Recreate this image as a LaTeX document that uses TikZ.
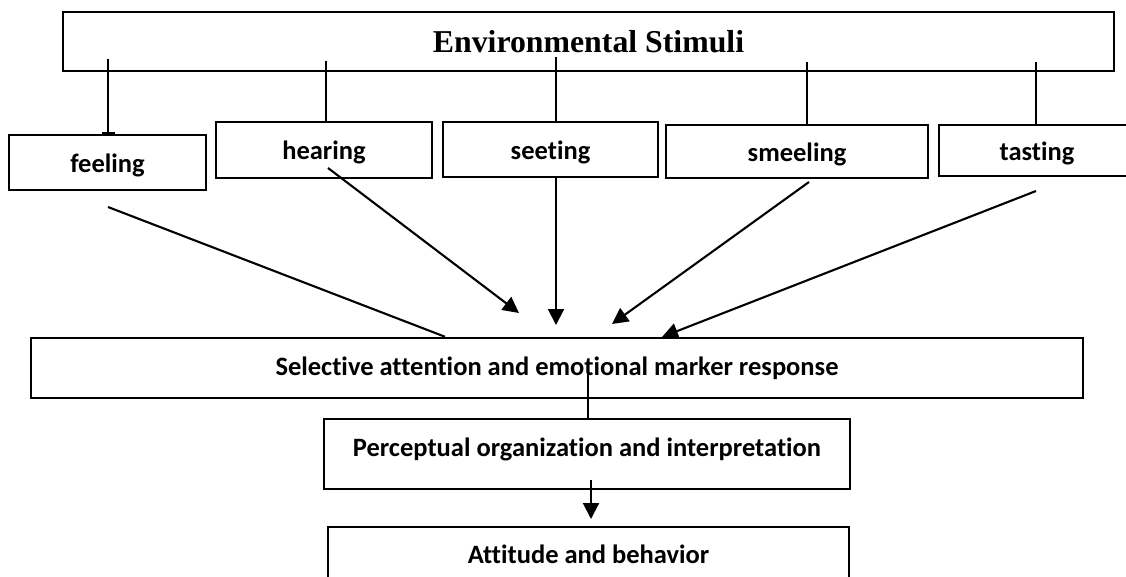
\documentclass[tikz,border=0pt]{standalone}
\usepackage{fontspec}
\setmainfont{Carlito}[Ligatures={NoCommon}]
\newfontfamily\timesb{Liberation Serif}
\usetikzlibrary{arrows.meta}
\begin{document}
\begin{tikzpicture}[x=1pt,y=-1pt,
  box/.style={draw, fill=white, line width=2.5pt, inner sep=0pt, align=center,
    font=\fontsize{26.5}{30}\selectfont\bfseries},
  sense/.style={box, text height=20pt, text depth=0pt},
  conn/.style={line width=2.1pt},
  arr/.style={conn, -{Triangle[length=16pt,width=16pt]}}]
\clip (0,0) rectangle (1126,577);
\fill[white] (0,0) rectangle (1126,577);

% boxes
\node[box, minimum width=1051pt, minimum height=59pt, text height=22pt, text depth=0pt,
  font=\timesb\fontsize{31.8}{34}\selectfont\bfseries] (env) at (588.5,41.5) {Environmental Stimuli};
\node[sense, minimum width=197pt, minimum height=55pt] (feel)  at (107.5,162.5) {feeling};
\node[sense, minimum width=216pt, minimum height=56pt] (hear)  at (324,150) {hearing};
\node[sense, minimum width=215pt, minimum height=55pt] (see)   at (550.5,149.5) {seeting};
\node[sense, minimum width=262pt, minimum height=53pt] (smell) at (797,151.5) {smeeling};
\node[sense, minimum width=196pt, minimum height=51pt] (taste) at (1037,150.5) {tasting};
\node[box, minimum width=1052pt, minimum height=60pt] (sel) at (557,368) {Selective attention and emotional marker response};
\node[box, minimum width=526pt, minimum height=70pt, text height=19pt, text depth=14pt] (perc) at (587,454) {Perceptual organization and interpretation};
\node[box, minimum width=521pt, minimum height=68pt, text height=19pt, text depth=15pt] (att) at (588.5,561) {Attitude and behavior};

% branches from Environmental Stimuli
\coordinate (e1) at (108,59);
\coordinate (e2) at (326,61);
\coordinate (e3) at (556,57);
\coordinate (e4) at (807,62);
\coordinate (e5) at (1036,62);
\draw[conn, -{Bar[width=13pt]}] (e1) -- (e1 |- feel.north);
\draw[conn] (e2) -- (e2 |- hear.north);
\draw[conn] (e3) -- (e3 |- see.north);
\draw[conn] (e4) -- (e4 |- smell.north);
\draw[conn] (e5) -- (e5 |- taste.north);

% senses to selective attention
\coordinate (f1) at (108,207);
\coordinate (f2) at (445,338);
\draw[conn] (f1) -- (f2 |- sel.north);
\coordinate (h1) at (328,168);
\coordinate (h2) at (519,313);
\draw[arr] (h1) -- (h2);
\coordinate (s2) at (556,325);
\draw[arr] (e3 |- see.south) -- (s2);
\coordinate (m1) at (809,182);
\coordinate (m2) at (612,324);
\draw[arr] (m1) -- (m2);
\coordinate (t1) at (1036,191);
\coordinate (t2) at (662,337);
\draw[arr] (t1) -- (t2);

% lower chain
\coordinate (p0) at (588,366);
\draw[conn] (p0) -- (p0 |- perc.north);
\coordinate (q0) at (591,480);
\coordinate (q1) at (591,519);
\draw[arr] (q0) -- (q1);
\end{tikzpicture}
\end{document}
